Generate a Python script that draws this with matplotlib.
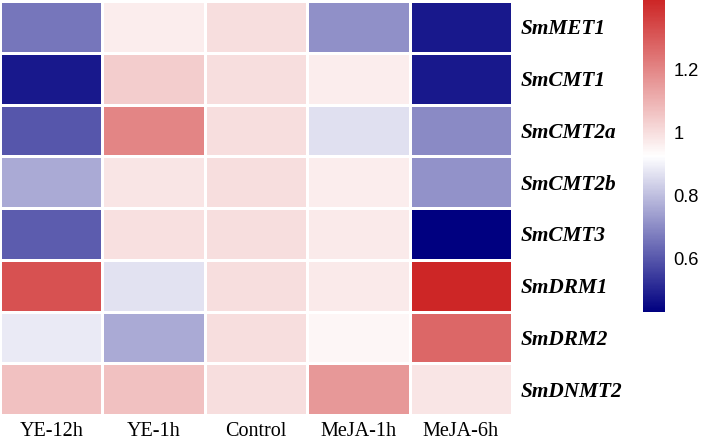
import numpy as np
import matplotlib
matplotlib.use("Agg")
import matplotlib.pyplot as plt
from matplotlib.colors import LinearSegmentedColormap

genes = ["SmMET1", "SmCMT1", "SmCMT2a", "SmCMT2b", "SmCMT3", "SmDRM1", "SmDRM2", "SmDNMT2"]
conditions = ["YE-12h", "YE-1h", "Control", "MeJA-1h", "MeJA-6h"]

ye12 = [0.66, 0.48, 0.60, 0.76, 0.61, 1.32, 0.885, 1.065]
ye1 = [0.965, 1.04, 1.20, 0.985, 0.995, 0.87, 0.76, 1.065]
control = [1.0, 1.0, 1.0, 1.0, 1.0, 1.0, 1.0, 1.0]
meja1 = [0.71, 0.965, 0.865, 0.965, 0.975, 0.975, 0.945, 1.16]
meja6 = [0.48, 0.48, 0.70, 0.715, 0.43, 1.42, 1.27, 0.985]

cbar_ticks = [0.6, 0.8, 1.0, 1.2]
cbar_labels = ["0.6", "0.8", "1", "1.2"]

data = np.array([ye12, ye1, control, meja1, meja6]).T

cmap = LinearSegmentedColormap.from_list("nwf", ["#000080", "#FFFFFF", "#CD2626"], N=256)

fig = plt.figure(figsize=(7.01, 4.42), dpi=100)
ax = fig.add_axes([0.0, 1 - 415 / 442, 512 / 701, 414 / 442])
mesh = ax.pcolormesh(data, cmap=cmap, vmin=data.min(), vmax=data.max(),
                     edgecolors="white", linewidth=1.0)
ax.set_xlim(0, data.shape[1])
ax.set_ylim(data.shape[0], 0)
for s in ax.spines.values():
    s.set_visible(False)
ax.set_xticks(np.arange(data.shape[1]) + 0.5)
ax.set_xticklabels(conditions, family="Liberation Serif", fontsize=14.5)
ax.set_yticks(np.arange(data.shape[0]) + 0.5)
ax.set_yticklabels(genes, family="Liberation Serif", fontsize=15.3,
                   fontweight="bold", fontstyle="italic")
ax.yaxis.tick_right()
ax.tick_params(length=0, pad=6)
ax.tick_params(axis="x", pad=5)

cax = fig.add_axes([643 / 701, 1 - 312 / 442, 22 / 701, 312 / 442])
cb = fig.colorbar(mesh, cax=cax)
cb.outline.set_visible(False)
cb.set_ticks(cbar_ticks)
cb.set_ticklabels(cbar_labels)
cax.tick_params(length=0, pad=6, labelsize=13.2)
for t in cax.get_yticklabels():
    t.set_family("Liberation Sans")

fig.savefig("out.png", dpi=100)
